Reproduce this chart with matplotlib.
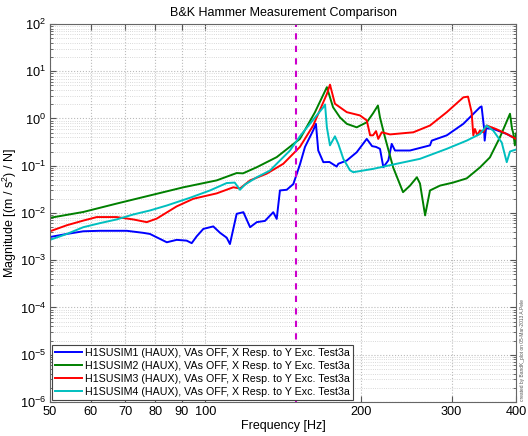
import numpy as np
import matplotlib
matplotlib.use('Agg')
import matplotlib.pyplot as plt
from matplotlib.ticker import FixedLocator, FixedFormatter, LogLocator, NullFormatter

plt.rcParams['font.family'] = ['Liberation Sans', 'DejaVu Sans']
plt.rcParams['mathtext.fontset'] = 'custom'
plt.rcParams['mathtext.rm'] = 'Liberation Sans'
plt.rcParams['mathtext.it'] = 'Liberation Sans:italic'
plt.rcParams['mathtext.bf'] = 'Liberation Sans:bold'

# frequency [Hz] / magnitude [(m/s^2)/N]
im1_freq = [50, 53.9, 58.0, 62.5, 70.4, 75.8, 78.1, 84.2, 88.0, 92.0, 94.1, 96.2, 99.1,
            103.6, 106.8, 110.0, 111.6, 115.0, 118.5, 122.1, 125.8, 130.5, 135.4, 137.5,
            139.5, 143.8, 148.1, 152.5, 156.0, 161.8, 163.8, 165.5, 169.3, 174.0, 179.7,
            181.0, 188, 196.5, 205.5, 210.4, 214.2, 218, 221.3, 226.3, 229.7, 233.1,
            249.2, 272.5, 274.6, 293.7, 316.2, 340.6, 343, 346.7, 347.8, 350, 361.5,
            383.8, 400]
im1_mag = [0.0031, 0.0036, 0.0041, 0.0042, 0.0042, 0.0038, 0.0036, 0.0024, 0.0027, 0.0026,
           0.0023, 0.0032, 0.0046, 0.0052, 0.0038, 0.0030, 0.0022, 0.0096, 0.0104, 0.0050,
           0.0064, 0.0068, 0.0104, 0.0075, 0.030, 0.031, 0.041, 0.106, 0.25, 0.56, 0.77,
           0.21, 0.119, 0.12, 0.096, 0.11, 0.129, 0.193, 0.37, 0.26, 0.25, 0.228, 0.093,
           0.13, 0.29, 0.21, 0.21, 0.27, 0.34, 0.44, 0.77, 1.73, 1.8, 0.65, 0.34, 0.62,
           0.60, 0.47, 0.37]

im2_freq = [50, 58.0, 67.3, 78.1, 90.7, 105.2, 115, 118.3, 125.8, 137.5, 152.5, 163, 172,
            176.8, 182.4, 188, 196.5, 205.5, 211.3, 216, 218, 222.9, 231.2, 241.6, 249.3,
            257, 260.6, 266.6, 272.5, 285, 302, 321, 340.5, 356, 372.3, 389.4, 393, 395,
            398, 400]
im2_mag = [0.0079, 0.0105, 0.0158, 0.0235, 0.035, 0.049, 0.070, 0.069, 0.093, 0.152, 0.37,
           1.34, 4.6, 1.73, 1.05, 0.77, 0.65, 0.83, 1.28, 1.88, 1.05, 0.40, 0.092, 0.0276,
           0.038, 0.057, 0.042, 0.0089, 0.030, 0.038, 0.044, 0.054, 0.092, 0.15, 0.40,
           1.26, 0.6, 0.50, 0.27, 0.48]

im3_freq = [50, 53.9, 58.0, 61.6, 67.3, 72.5, 77.0, 80.5, 88.0, 94.8, 105.2, 113.3, 116.7,
            122.1, 131.5, 141.6, 152.5, 161.8, 172, 174.4, 178.3, 188, 199.4, 205.5, 208.6,
            211.3, 214.2, 216.3, 219.7, 228, 252.9, 272.5, 293.7, 316.2, 322.9, 328.1,
            330.6, 333, 336.5, 340.6, 345.7, 351, 365.7, 383.8, 400]
im3_mag = [0.0041, 0.0055, 0.0069, 0.0082, 0.0082, 0.0073, 0.0064, 0.0076, 0.0138, 0.020,
           0.026, 0.035, 0.033, 0.049, 0.068, 0.11, 0.25, 0.71, 3.3, 5.2, 2.05, 1.36, 1.16,
           0.91, 0.44, 0.44, 0.54, 0.37, 0.51, 0.46, 0.51, 0.71, 1.36, 2.8, 2.9, 1.36,
           0.44, 0.60, 0.44, 0.56, 0.51, 0.71, 0.60, 0.47, 0.37]

im4_freq = [50, 53.9, 58.0, 62.5, 67.3, 72.5, 78.1, 84.2, 93.4, 102.1, 110, 114, 116.7,
            119.4, 125.8, 133.4, 139.5, 145.9, 152.5, 161.8, 169.3, 170.6, 172, 174.4, 178.3,
            181.0, 185.1, 190.7, 193.5, 211.6, 234.8, 260.6, 293.7, 321, 340.6, 351, 361.5,
            375.3, 383.8, 389.4, 400]
im4_mag = [0.0027, 0.0036, 0.005, 0.0061, 0.0073, 0.0093, 0.0113, 0.0144, 0.021, 0.030,
           0.043, 0.044, 0.031, 0.040, 0.057, 0.079, 0.129, 0.21, 0.42, 0.94, 1.73, 1.98,
           0.65, 0.27, 0.42, 0.29, 0.14, 0.08, 0.073, 0.086, 0.11, 0.14, 0.228, 0.34, 0.47,
           0.71, 0.55, 0.31, 0.119, 0.20, 0.22]

legend_labels = ['H1SUSIM%d (HAUX), VAs OFF, X Resp. to Y Exc. Test3a' % i for i in range(1, 5)]
colors = ['#0000ff', '#008000', '#ff0000', '#00bfbf']
marker_freq = 150

x_ticks = [50, 60, 70, 80, 90, 100, 200, 300, 400]

fig = plt.figure(figsize=(5.28, 4.36), dpi=100)
ax = fig.add_axes([0.0947, 0.078, 0.8826, 0.867])

series = [(im1_freq, im1_mag), (im2_freq, im2_mag), (im3_freq, im3_mag), (im4_freq, im4_mag)]
for (f, m), c, lab in zip(series, colors, legend_labels):
    ax.loglog(f, m, color=c, lw=1.4, label=lab)

ax.axvline(marker_freq, color='#cc00cc', ls='--', lw=1.5, dashes=(3, 3))

ax.set_xlim(50, 400)
ax.set_ylim(1e-6, 1e2)
ax.xaxis.set_major_locator(FixedLocator(x_ticks))
ax.xaxis.set_major_formatter(FixedFormatter([str(t) for t in x_ticks]))
ax.xaxis.set_minor_locator(FixedLocator([]))
ax.yaxis.set_major_locator(LogLocator(base=10, numticks=20))
ax.yaxis.set_minor_locator(LogLocator(base=10, subs=np.arange(2, 10), numticks=20))
ax.yaxis.set_minor_formatter(NullFormatter())
ax.tick_params(which='both', direction='in', top=True, right=True, labelsize=9.2,
               colors='#555555', labelcolor='black', pad=3)
ax.tick_params(which='major', length=4)
ax.tick_params(which='minor', length=2)
ax.grid(True, which='major', ls=':', color='#bbbbbb', lw=0.8)
ax.grid(True, which='minor', ls=':', color='#cccccc', lw=0.6)
for s in ax.spines.values():
    s.set_color('#666666')

ax.set_title('B&K Hammer Measurement Comparison', fontsize=9, pad=6)
ax.set_xlabel('Frequency [Hz]', fontsize=9, labelpad=1)
ax.set_ylabel('Magnitude [(m / s$^2$) / N]', fontsize=9)
ax.yaxis.set_label_coords(-0.066, 0.5)

leg = ax.legend(loc='lower left', fontsize=7.7, handlelength=2.5, handletextpad=0.35,
                borderaxespad=0.15, labelspacing=0.28, fancybox=False, framealpha=1,
                borderpad=0.3)
leg.get_frame().set_edgecolor('#444444')
leg.get_frame().set_linewidth(0.8)

fig.text(0.989, 0.08, 'created by BandK_plot on 05-Mar-2013 A.Pele', rotation=90,
         fontsize=3.5, ha='center', va='bottom', color='#555555')

fig.savefig('out.png', dpi=100)
